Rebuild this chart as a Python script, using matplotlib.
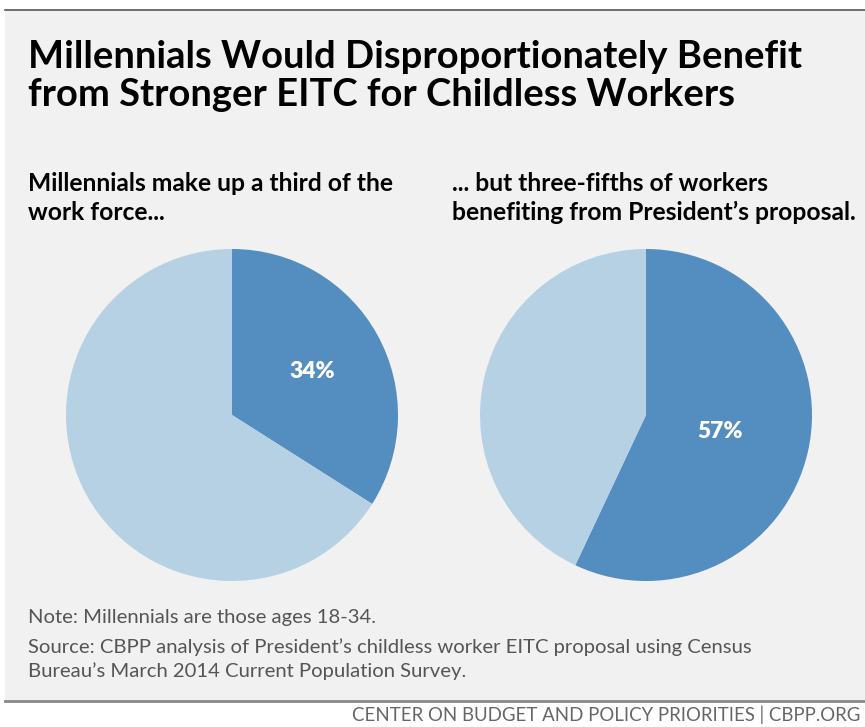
import matplotlib
matplotlib.use("Agg")
from matplotlib import pyplot as plt
from matplotlib.lines import Line2D

W, H = 865, 727

title_lines = ["Millennials Would Disproportionately Benefit",
               "from Stronger EITC for Childless Workers"]
left_subtitle = ["Millennials make up a third of the", "work force..."]
right_subtitle = ["... but three-fifths of workers", "benefiting from President\u2019s proposal."]
left_shares = [34, 66]
right_shares = [57, 43]
note = "Note: Millennials are those ages 18-34."
source_lines = ["Source: CBPP analysis of President\u2019s childless worker EITC proposal using Census",
                "Bureau\u2019s March 2014 Current Population Survey."]
footer = "CENTER ON BUDGET AND POLICY PRIORITIES | CBPP.ORG"

dark_blue = "#548dbf"
light_blue = "#b6d1e4"
panel_bg = "#f1f1f1"

fam = ["Lato", "DejaVu Sans"]
plt.rcParams["font.family"] = fam


def fx(px):
    return px / W


def fy(py):
    return 1 - py / H


fig = plt.figure(figsize=(W / 100, H / 100), dpi=100)
fig.patch.set_facecolor("white")
renderer = fig.canvas.get_renderer()


# font size that makes a string span the given pixel width
def fit_size(s, width_px, **kw):
    t = fig.text(0, 0, s, fontsize=10, **kw)
    w = t.get_window_extent(renderer).width
    t.remove()
    return 10 * width_px / w


# grey panel
fig.patches.append(plt.Rectangle((fx(5), fy(701)), 1, fy(10) - fy(701),
                                 transform=fig.transFigure, facecolor=panel_bg,
                                 edgecolor="none", zorder=-2))
fig.lines.append(Line2D([fx(5), 1], [fy(10), fy(10)], transform=fig.transFigure,
                        color="#555555", lw=1.2, zorder=-1))
fig.lines.append(Line2D([fx(5), 1], [fy(701), fy(701)], transform=fig.transFigure,
                        color="#888888", lw=2, zorder=-1))

# title
title_size = fit_size(title_lines[0], 775, fontweight="bold")
for i, line in enumerate(title_lines):
    fig.text(fx(28), fy(68 + i * 38), line, fontsize=title_size, fontweight="bold",
             color="black", va="baseline", ha="left")

# subtitles
sub_size = fit_size(right_subtitle[1], 405, fontweight="bold")
for i, line in enumerate(left_subtitle):
    fig.text(fx(28), fy(191 + i * 29), line, fontsize=sub_size, fontweight="bold",
             color="black", va="baseline", ha="left")
for i, line in enumerate(right_subtitle):
    fig.text(fx(452), fy(191 + i * 29), line, fontsize=sub_size, fontweight="bold",
             color="black", va="baseline", ha="left")

pct_size = fit_size("34%", 46, fontweight="heavy")


def draw_pie(cx, cy, r, shares, pctdist):
    ax = fig.add_axes([fx(cx - r), fy(cy + r), 2 * r / W, 2 * r / H])
    ax.pie(shares, colors=[dark_blue, light_blue], startangle=90, counterclock=False,
           autopct=lambda p: "{:.0f}%".format(p) if abs(p - shares[0]) < 0.5 else "",
           pctdistance=pctdist, radius=1,
           textprops=dict(color="white", fontsize=pct_size, fontweight="heavy"))
    ax.set_xlim(-1, 1)
    ax.set_ylim(-1, 1)
    ax.set_aspect("equal")
    ax.axis("off")
    return ax


draw_pie(232, 415, 166, left_shares, 0.55)
draw_pie(646, 415, 166, right_shares, 0.46)

# notes
note_size = fit_size(source_lines[0], 722)
fig.text(fx(28), fy(623), note, fontsize=note_size, color="#555555",
         va="baseline", ha="left")
for i, line in enumerate(source_lines):
    fig.text(fx(28), fy(653 + i * 24), line, fontsize=note_size,
             color="#555555", va="baseline", ha="left")

footer_size = fit_size(footer, 505)
fig.text(fx(352), fy(721), footer, fontsize=footer_size, color="#666666",
         va="baseline", ha="left")

fig.savefig("out.png", dpi=100, facecolor="white")
